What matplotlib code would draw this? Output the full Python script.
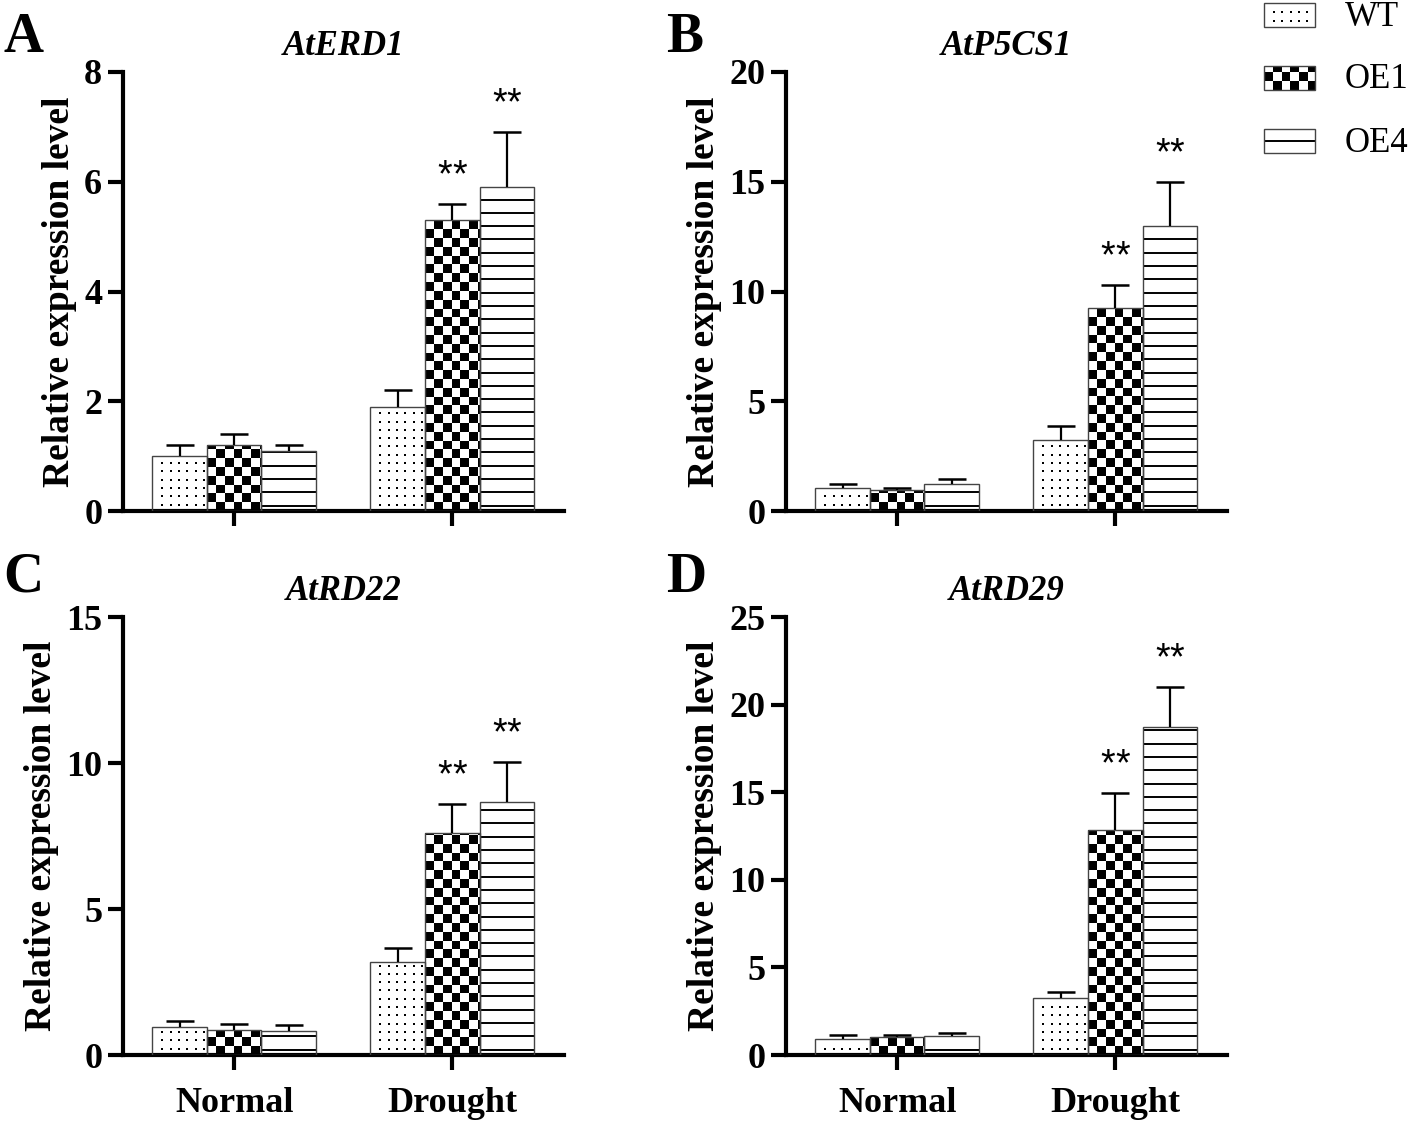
import numpy as np
import matplotlib.pyplot as plt
from matplotlib.patches import Rectangle

plt.rcParams['font.family'] = ['Liberation Serif', 'DejaVu Serif']
plt.rcParams['font.weight'] = 'bold'
plt.rcParams['axes.linewidth'] = 3

W, H = 1416, 1122

# === data ===
genes = ['AtERD1', 'AtP5CS1', 'AtRD22', 'AtRD29']
letters = ['A', 'B', 'C', 'D']
conditions = ['Normal', 'Drought']
lines = ['WT', 'OE1', 'OE4']

# order: Normal WT, OE1, OE4, Drought WT, OE1, OE4
erd1_mean = [1.0, 1.2, 1.1, 1.9, 5.3, 5.9]
erd1_sd = [0.2, 0.2, 0.1, 0.3, 0.3, 1.0]
p5cs1_mean = [1.04, 0.94, 1.22, 3.23, 9.27, 13.0]
p5cs1_sd = [0.2, 0.1, 0.23, 0.62, 1.03, 2.0]
rd22_mean = [0.96, 0.84, 0.83, 3.2, 7.6, 8.67]
rd22_sd = [0.2, 0.23, 0.21, 0.48, 1.0, 1.35]
rd29_mean = [0.92, 1.01, 1.07, 3.27, 12.84, 18.75]
rd29_sd = [0.23, 0.16, 0.17, 0.35, 2.13, 2.24]
stars = ['', '', '', '', '**', '**']

y_max = [8, 20, 15, 25]
y_step = [2, 5, 5, 5]

means = [erd1_mean, p5cs1_mean, rd22_mean, rd29_mean]
sds = [erd1_sd, p5cs1_sd, rd22_sd, rd29_sd]
textures = ['dots', 'checker', 'hlines']

# panel boxes in pixels: left, top, right, bottom
boxes = [(123, 72, 564, 511), (786, 72, 1227, 511),
         (123, 617, 564, 1055), (786, 617, 1227, 1055)]


def rect(l, t, r, b):
    return [l / W, 1 - b / H, (r - l) / W, (b - t) / H]


def px_scale(ax):
    x0, x1 = ax.get_xlim()
    y0, y1 = ax.get_ylim()
    return ax.bbox.width / (x1 - x0), ax.bbox.height / (y1 - y0)


def texture(ax, patch, kind, line_off=5.5):
    sx, sy = px_scale(ax)
    x0, y0 = patch.get_x(), patch.get_y()
    x1, y1 = x0 + patch.get_width(), y0 + patch.get_height()
    if kind == 'dots':
        xs = np.arange(x0 + 10 / sx, x1 - 1 / sx, 8.3 / sx)
        ys = np.arange(y0 + 6.5 / sy, y1 - 2 / sy, 8.3 / sy)
        gx, gy = np.meshgrid(xs, ys)
        ax.plot(gx.ravel(), gy.ravel(), 's', ms=1.5, mew=0, color='k', zorder=2)
    elif kind == 'checker':
        step = 8.8
        nx = int(np.ceil((x1 - x0) * sx / step))
        ny = int(np.ceil((y1 - y0) * sy / step))
        board = np.indices((ny, nx)).sum(axis=0) % 2
        im = ax.imshow(board, cmap='binary', vmin=0, vmax=1, origin='lower',
                       interpolation='nearest', aspect='auto', zorder=2,
                       extent=(x0, x0 + nx * step / sx, y0, y0 + ny * step / sy))
        im.set_clip_path(patch)
    elif kind == 'hlines':
        ys = np.arange(y0 + line_off / sy, y1 - 1.5 / sy, 13.3 / sy)
        ax.hlines(ys, x0, x1, color='k', lw=1.4, zorder=2)


fig = plt.figure(figsize=(W / 100, H / 100), dpi=100)

for i, gene in enumerate(genes):
    ax = fig.add_axes(rect(*boxes[i]))
    ax.set_xlim(-1.04, 7.05)
    ax.set_ylim(0, y_max[i])

    xpos = np.array([c * 4 + j for c in range(2) for j in range(3)], dtype=float)
    vals = np.array(means[i])
    errs = np.array(sds[i])

    bars = ax.bar(xpos, vals, width=1, color='white', edgecolor='none', zorder=1)
    for k, p in enumerate(bars.patches):
        texture(ax, p, textures[k % 3])
    ax.bar(xpos, vals, width=1, fill=False, edgecolor='#444444', linewidth=1.0, zorder=3)
    # upper error bars only: stem + cap marker
    ax.errorbar(xpos, vals, yerr=[np.zeros_like(errs), errs], fmt='none', ecolor='k',
                elinewidth=1.6, capsize=0, zorder=3)
    ax.plot(xpos, vals + errs, '_', ms=19.5, mew=1.8, color='k', zorder=3)

    for k, s in enumerate(stars):
        for m, ch in enumerate(s):
            dx = (m - (len(s) - 1) / 2) * 10.5
            ax.annotate(ch, xy=(xpos[k], vals[k] + errs[k]), xytext=(dx, 20),
                        textcoords='offset points', ha='center', va='center',
                        fontsize=27, fontweight='normal', family='Liberation Sans')

    ax.spines['top'].set_visible(False)
    ax.spines['right'].set_visible(False)
    ax.set_yticks(np.arange(0, y_max[i] + 0.1, y_step[i]))
    ax.set_xticks([1, 5])
    if i >= 2:
        ax.set_xticklabels(conditions)
    else:
        ax.set_xticklabels([])
    ax.tick_params(axis='both', direction='out', length=11, width=3, labelsize=26)
    ax.tick_params(axis='y', pad=4)
    ax.tick_params(axis='x', pad=12)
    ax.set_ylabel('Relative expression level', fontsize=27, fontweight='bold', labelpad=5)
    ax.set_title(gene, fontsize=25, fontstyle='italic', fontweight='bold', pad=12)

    lx = 3 if i % 2 == 0 else 666
    ly = 52 if i < 2 else 592
    fig.text(lx / W, 1 - ly / H, letters[i], fontsize=40, fontweight='bold', va='baseline')

# legend drawn by hand so the patterns match the bars
lax = fig.add_axes(rect(1250, 0, 1416, 165))
lax.set_xlim(1250, 1416)
lax.set_ylim(0, 165)
lax.axis('off')
leg_top = [3, 66, 129]
for k, name in enumerate(lines):
    y0 = 165 - leg_top[k] - 24
    box = Rectangle((1264, y0), 51, 24, facecolor='white', edgecolor='none', zorder=1)
    lax.add_patch(box)
    texture(lax, box, textures[k], line_off=12)
    lax.add_patch(Rectangle((1264, y0), 51, 24, fill=False, edgecolor='#444444', lw=1.0, zorder=3))
    lax.text(1345, y0 + 10, name, fontsize=25, fontweight='normal', va='center', ha='left')
lax.set_xlim(1250, 1416)
lax.set_ylim(0, 165)

fig.savefig('out.png', dpi=100)
